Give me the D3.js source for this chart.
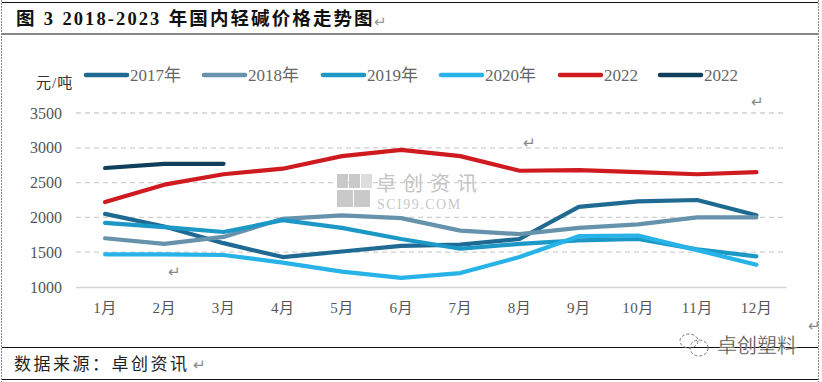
<!DOCTYPE html>
<html><head><meta charset="utf-8">
<script src="https://cdnjs.cloudflare.com/ajax/libs/d3/7.8.5/d3.min.js"></script>
<style>
html,body{margin:0;padding:0;background:#fff;overflow:hidden}
svg{display:block}
text{font-family:"Liberation Serif","Noto Sans CJK SC",serif}
</style></head><body>
<script>
const months=["1月","2月","3月","4月","5月","6月","7月","8月","9月","10月","11月","12月"];
const yTicks=[1000,1500,2000,2500,3000,3500];
const names=["2017年","2018年","2019年","2020年","2022","2022"];
const colors=["#1f6a92","#6693ab","#1b98c6","#27b2e8","#cf1a1f","#103f5c"];
const s2017=[2050,1870,1630,1430,1510,1590,1610,1690,2150,2230,2250,2030];
const s2018=[1700,1620,1720,1980,2030,1990,1810,1760,1850,1900,2000,2000];
const s2019=[1920,1860,1790,1960,1850,1690,1550,1620,1670,1690,1540,1440];
const s2020=[1470,1470,1460,1350,1220,1130,1200,1430,1730,1740,1530,1320];
const s2022a=[2220,2470,2620,2700,2880,2970,2880,2670,2680,2650,2620,2650];
const s2022b=[2710,2770,2770];
const series=[s2017,s2018,s2019,s2020,s2022a,s2022b];

const W=822,H=382;
const svg=d3.select("body").append("svg").attr("width",W).attr("height",H);
const x=d3.scaleBand().domain(months).range([75.5,786]);
const y=d3.scaleLinear().domain([1000,3500]).range([287,113]);

// frame
[2.5,34,347.5,379.5].forEach(py=>{
  svg.append("line").attr("x1",2).attr("x2",818).attr("y1",py).attr("y2",py).attr("stroke","#111").attr("stroke-width",1.2);
});
[1.5,818.5].forEach(px=>svg.append("line").attr("x1",px).attr("x2",px).attr("y1",0).attr("y2",H)
  .attr("stroke","#888").attr("stroke-width",1).attr("stroke-dasharray","2 1"));

svg.append("text").attr("x",16).attr("y",25).attr("font-size",18.5).attr("font-weight",700).attr("fill","#111")
  .attr("letter-spacing",2.1).attr("word-spacing",0.5).text("图 3 2018-2023 年国内轻碱价格走势图");
const src=svg.append("text").attr("x",14).attr("y",370).attr("font-size",17).attr("fill","#222")
  .attr("letter-spacing",2.5).attr("font-family","Noto Sans CJK SC").text("数据来源\uFF1A卓创资讯");

// grid
svg.append("g").selectAll("line").data(yTicks.slice(1)).join("line")
  .attr("x1",76).attr("x2",786).attr("y1",d=>y(d)).attr("y2",d=>y(d))
  .attr("stroke","#cfcfcf").attr("stroke-width",1.3).attr("stroke-dasharray","5 4");

// watermark
const wm=svg.append("g");
[[337,174,"#c9c9c9"],[349,174,"#c9c9c9"],[361,174,"#dddddd"],[337,190,"#c9c9c9"],[354,190,"#c9c9c9"]].forEach((p,i)=>wm.append("rect")
  .attr("x",p[0]).attr("y",p[1]).attr("width",i>2?16:11).attr("height",i>2?17:14).attr("fill",p[2]));
wm.append("text").attr("x",376).attr("y",191).attr("font-size",20).attr("fill","#c4c4c4").attr("letter-spacing",7).text("卓创资讯");
wm.append("text").attr("x",377).attr("y",209).attr("font-size",14).attr("fill","#c9c9c9").attr("letter-spacing",1.5).text("SCI99.COM");

// axes
const ax=svg.append("g").attr("transform","translate(0,287)").call(d3.axisBottom(x).tickSize(0).tickPadding(15));
ax.select(".domain").attr("stroke","#d4d4d4").attr("stroke-width",1.5);
ax.selectAll("text").attr("font-size",15).attr("fill","#555").attr("letter-spacing",0.5);
const ay=svg.append("g").attr("transform","translate(64,0)").call(d3.axisLeft(y).tickValues(yTicks).tickSize(0).tickPadding(2).tickFormat(d3.format("d")));
ay.select(".domain").remove();
ay.selectAll("text").attr("font-size",16).attr("fill","#555").attr("font-family","Liberation Sans");

// lines
const line=d3.line().x((d,i)=>x(months[i])+x.bandwidth()/2).y(d=>y(d));
svg.append("g").selectAll("path").data(series).join("path")
  .attr("d",line).attr("fill","none").attr("stroke",(d,i)=>colors[i])
  .attr("stroke-width",4.2).attr("stroke-linecap","round").attr("stroke-linejoin","round");

// legend
const legX=[86,204,323,441,560,660];
const lg=svg.append("g").selectAll("g").data(names).join("g").attr("transform",(d,i)=>`translate(${legX[i]},75)`);
lg.append("line").attr("x1",0).attr("x2",41).attr("stroke",(d,i)=>colors[i]).attr("stroke-width",4.5).attr("stroke-linecap","round");
lg.append("text").attr("x",44).attr("y",6).attr("font-size",17).attr("fill","#666").text(d=>d);
svg.append("text").attr("x",36).attr("y",88).attr("font-size",15).attr("fill","#333").attr("letter-spacing",1).text("元/吨");

// paragraph marks
[[374,27,"#999"],[751,107,"#888"],[523,148,"#888"],[168,277,"#888"],[193,370,"#888"],[808,331,"#888"]].forEach(p=>
  svg.append("text").attr("x",p[0]).attr("y",p[1]).attr("font-size",15).attr("fill",p[2]).attr("font-family","DejaVu Sans").text("↵"));

// wechat mark
const wc=svg.append("g").attr("fill","none").attr("stroke","#777").attr("stroke-width",1).attr("stroke-dasharray","3 2");
wc.append("ellipse").attr("cx",689).attr("cy",341).attr("rx",9).attr("ry",7);
wc.append("ellipse").attr("cx",699).attr("cy",348).attr("rx",9).attr("ry",8);
svg.append("text").attr("x",717).attr("y",353).attr("font-size",20).attr("fill","#444")
  .attr("stroke","#fff").attr("stroke-width",0.3).text("卓创塑料");
</script>
</body></html>
